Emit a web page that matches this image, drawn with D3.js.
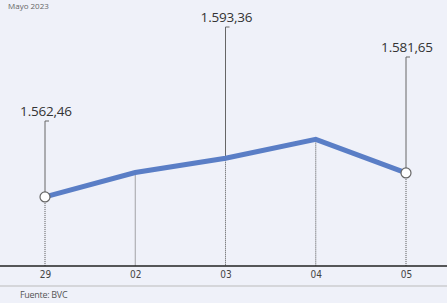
<!DOCTYPE html>
<html><head><meta charset="utf-8">
<script src="https://cdn.jsdelivr.net/npm/d3@7"></script>
<style>html,body{margin:0;padding:0;background:#eff1f9;}svg{display:block;}</style>
</head><body>
<svg id="c" width="447" height="303"></svg>
<script>
const categories = ["29","02","03","04","05"];
const values = [1562.46, 1582.0, 1593.36, 1608.5, 1581.65];
const labels = ["1.562,46", null, "1.593,36", null, "1.581,65"];
const labelTop = [116, null, 22, null, 52]; // baseline of label text
const circles = [true, false, false, false, true];

const svg = d3.select("#c");
const W = 447, H = 303;
svg.append("rect").attr("width", W).attr("height", H).attr("fill", "#eff1f9");

const x = d3.scalePoint().domain(categories).range([45, 406]);
const y = d3.scaleLinear().domain([1500, 1620]).range([275, 125]);
const axisY = 266;

svg.append("text").attr("x", 8).attr("y", 9).attr("font-family", "Open Sans, sans-serif")
  .attr("font-size", 8).attr("fill", "#666").text("Mayo 2023");

categories.forEach((c, i) => {
  svg.append("line").attr("x1", x(c)).attr("x2", x(c))
    .attr("y1", y(values[i])).attr("y2", axisY)
    .attr("stroke", "#555").attr("stroke-width", 1).attr("stroke-dasharray", "1,1");
  if (labels[i]) {
    svg.append("line").attr("x1", x(c)).attr("x2", x(c))
      .attr("y1", labelTop[i] + 5).attr("y2", y(values[i]))
      .attr("stroke", "#666").attr("stroke-width", 1);
    svg.append("line").attr("x1", x(c)).attr("x2", x(c) + 4)
      .attr("y1", labelTop[i] + 5).attr("y2", labelTop[i] + 5)
      .attr("stroke", "#666").attr("stroke-width", 1);
    svg.append("text").attr("x", x(c) + 1).attr("y", labelTop[i])
      .attr("text-anchor", "middle").attr("font-family", "Open Sans, sans-serif")
      .attr("font-size", 13.5).attr("fill", "#333").attr("letter-spacing", "-0.2")
      .text(labels[i]);
  }
});

const line = d3.line().x((d, i) => x(categories[i])).y(d => y(d));
svg.append("path").datum(values).attr("d", line).attr("fill", "none")
  .attr("stroke", "#5a7ec6").attr("stroke-width", 5).attr("stroke-linejoin", "miter");

values.forEach((v, i) => {
  if (circles[i]) svg.append("circle").attr("cx", x(categories[i])).attr("cy", y(v)).attr("r", 5)
    .attr("fill", "#fff").attr("stroke", "#666").attr("stroke-width", 1.2);
});

svg.append("line").attr("x1", 0).attr("x2", W).attr("y1", axisY).attr("y2", axisY)
  .attr("stroke", "#222").attr("stroke-width", 1.5);
svg.append("line").attr("x1", 0).attr("x2", W).attr("y1", 286).attr("y2", 286)
  .attr("stroke", "#bbb").attr("stroke-width", 1);

const ax = d3.axisBottom(x).tickSize(0).tickPadding(5);
const g = svg.append("g").attr("transform", `translate(0,${axisY})`).call(ax);
g.select(".domain").remove();
g.selectAll("text").attr("font-family", "Liberation Sans Narrow, DejaVu Sans Condensed, sans-serif")
  .attr("font-size", 10).attr("fill", "#444");

svg.append("text").attr("x", 20).attr("y", 298).attr("font-family", "Open Sans, sans-serif")
  .attr("font-size", 9).attr("fill", "#555").attr("letter-spacing", "-0.3").text("Fuente: BVC");
</script>
</body></html>
